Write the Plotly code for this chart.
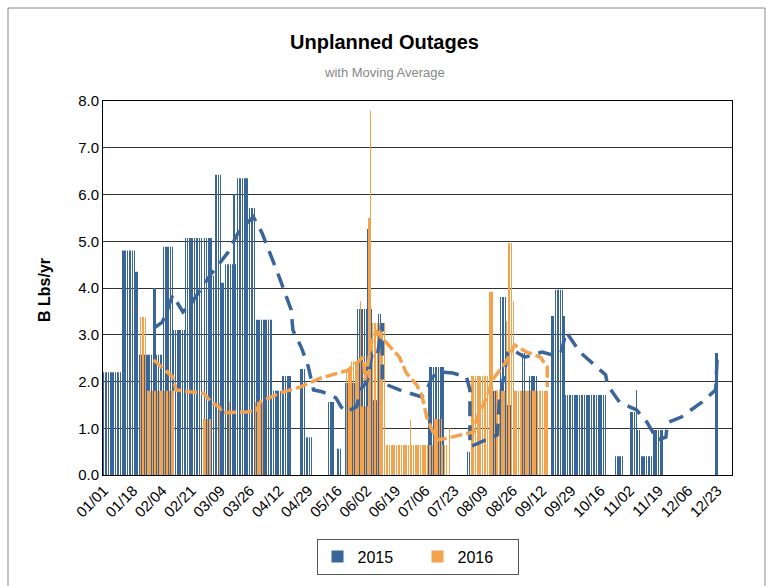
import numpy as np
import pandas as pd
import plotly.graph_objects as go

# x axis: one category per day of a (leap) year, labelled MM/DD
tick_labels = ["01/01", "01/18", "02/04", "02/21", "03/09", "03/26", "04/12", "04/29",
               "05/16", "06/02", "06/19", "07/06", "07/23", "08/09", "08/26", "09/12",
               "09/29", "10/16", "11/02", "11/19", "12/06", "12/23"]

# daily bars, kept as runs of equal values: (first day, last day, value)
runs_2015 = [
    ("01/01", "01/11", 2.2), ("01/12", "01/19", 4.8), ("01/20", "01/21", 4.35),
    ("01/22", "01/29", 2.57), ("01/30", "01/31", 4.0), ("02/01", "02/04", 2.57),
    ("02/05", "02/10", 4.88), ("02/11", "02/17", 3.1), ("02/18", "02/27", 5.07),
    ("02/29", "03/04", 5.07), ("03/05", "03/05", 4.26), ("03/06", "03/09", 6.42),
    ("03/10", "03/11", 4.11), ("03/12", "03/16", 4.51), ("03/17", "03/17", 6.01),
    ("03/18", "03/18", 4.51), ("03/19", "03/25", 6.35), ("03/26", "03/29", 5.71),
    ("03/30", "04/08", 3.32), ("04/09", "04/13", 1.8), ("04/14", "04/19", 2.12),
    ("04/25", "04/27", 2.27), ("04/28", "05/01", 0.81), ("05/11", "05/14", 1.56),
    ("05/16", "05/18", 0.56), ("05/21", "05/27", 1.97), ("05/28", "06/02", 3.55),
    ("06/03", "06/03", 5.26), ("06/04", "06/05", 3.55), ("06/06", "06/08", 1.6),
    ("06/09", "06/10", 3.45), ("07/08", "07/08", 1.9), ("07/09", "07/17", 2.31),
    ("07/31", "08/01", 0.5), ("08/15", "08/17", 1.8), ("08/19", "08/22", 3.81),
    ("08/23", "08/25", 1.5), ("09/01", "09/02", 2.61), ("09/05", "09/09", 2.12),
    ("09/18", "09/19", 3.4), ("09/20", "09/24", 3.96), ("09/25", "09/25", 3.4),
    ("09/26", "10/19", 1.71), ("10/25", "10/29", 0.4), ("11/03", "11/05", 1.35),
    ("11/06", "11/06", 1.82), ("11/07", "11/08", 0.96), ("11/09", "11/15", 0.4),
    ("11/16", "11/21", 0.96), ("12/22", "12/23", 2.61),
]
runs_2016 = [
    ("01/22", "01/25", 3.38), ("01/26", "02/10", 1.8), ("02/28", "03/03", 1.2),
    ("03/08", "03/08", 1.54), ("03/14", "03/14", 1.56), ("03/29", "04/02", 1.56),
    ("05/21", "05/23", 2.27), ("05/24", "05/28", 2.43), ("05/29", "05/29", 3.72),
    ("05/30", "06/02", 1.47), ("06/03", "06/03", 5.5), ("06/04", "06/04", 7.79),
    ("06/05", "06/12", 3.25), ("06/13", "06/26", 0.64), ("06/27", "06/27", 1.18),
    ("06/28", "07/10", 0.64), ("07/11", "07/15", 1.2), ("07/16", "07/18", 0.64),
    ("07/20", "07/20", 1.0), ("08/02", "08/11", 2.12), ("08/12", "08/14", 3.92),
    ("08/15", "08/21", 1.8), ("08/22", "08/22", 3.29), ("08/23", "08/25", 4.96),
    ("08/26", "08/26", 3.72), ("08/27", "09/15", 1.8),
]

# moving average lines
ma_2015_dates = ["01/30", "02/04", "02/07", "02/10", "02/16", "02/21", "03/03", "03/13",
                 "03/20", "03/28", "04/02", "04/12", "04/19", "04/20", "04/25", "04/29",
                 "05/02", "05/07", "05/15", "05/18", "05/21", "05/27", "05/30", "06/02",
                 "06/05", "06/08", "06/11", "06/11", "06/21", "07/04", "07/07", "07/10",
                 "07/16", "07/22", "07/30", "08/01", "08/01", "08/08", "08/17", "08/18",
                 "08/20", "08/23", "08/26", "09/02", "09/12", "09/18", "09/23", "09/26",
                 "10/04", "10/11", "10/19", "10/20", "10/27", "11/06", "11/12", "11/18",
                 "11/23", "11/24", "12/02", "12/14", "12/22", "12/23"]
ma_2015_vals = [3.14, 3.27, 3.53, 3.85, 3.49, 3.68, 4.28, 4.75,
                5.24, 5.52, 5.18, 4.24, 3.53, 3.1, 2.72, 2.31,
                1.82, 1.78, 1.65, 1.46, 1.35, 1.46, 1.86, 1.99,
                2.57, 2.52, 3.25, 1.97, 1.82, 1.67, 1.82, 2.1,
                2.2, 2.18, 2.1, 1.82, 0.6, 0.71, 0.86, 1.54,
                1.97, 2.61, 2.67, 2.52, 2.63, 2.57, 2.61, 3.06,
                2.63, 2.4, 2.14, 1.93, 1.56, 1.39, 1.13, 0.75,
                0.81, 1.12, 1.24, 1.56, 1.82, 2.61]

ma_2016_dates = ["01/30", "02/04", "02/10", "02/11", "02/12", "02/20", "02/28", "03/04",
                 "03/08", "03/10", "03/24", "03/30", "04/01", "04/12", "04/24", "05/06",
                 "05/17", "05/22", "05/31", "06/01", "06/05", "06/08", "06/11", "06/21",
                 "06/25", "07/01", "07/04", "07/07", "07/10", "07/13", "07/19", "08/03",
                 "08/05", "08/11", "08/14", "08/22", "08/27", "09/03", "09/11", "09/15",
                 "09/15"]
ma_2016_vals = [2.46, 2.29, 2.1, 1.97, 1.82, 1.78, 1.75, 1.54,
                1.46, 1.33, 1.35, 1.39, 1.56, 1.75, 1.88, 2.07,
                2.2, 2.24, 2.52, 2.03, 2.89, 3.06, 2.93, 2.52,
                2.18, 1.93, 1.71, 1.22, 0.96, 0.75, 0.79, 0.92,
                1.22, 1.67, 2.03, 2.42, 2.78, 2.63, 2.52, 2.31,
                1.88]

BLUE = "#3A6598"
ORANGE = "#F3A24E"


def day(mmdd):
    return (pd.Timestamp("2016/" + mmdd) - pd.Timestamp("2016/01/01")).days


def daily(runs):
    vals = np.full(366, np.nan)
    for a, b, v in runs:
        vals[day(a):day(b) + 1] = v
    return vals


days = np.arange(366)
fig = go.Figure()
# thin bars: plotly widens them to a whole pixel, which gives the striped look
fig.add_trace(go.Bar(x=days, y=daily(runs_2015), name="2015", marker_color=BLUE,
                     marker_line_width=0, width=0.1, offset=-0.32))
fig.add_trace(go.Bar(x=days, y=daily(runs_2016), name="2016", marker_color=ORANGE,
                     marker_line_width=0, width=0.1, offset=0.2))
fig.add_trace(go.Scatter(x=[day(d) for d in ma_2015_dates], y=ma_2015_vals, mode="lines",
                         line=dict(color=BLUE, width=3.5, dash="15px,9px"), showlegend=False))
fig.add_trace(go.Scatter(x=[day(d) for d in ma_2016_dates], y=ma_2016_vals, mode="lines",
                         line=dict(color=ORANGE, width=3.5, dash="12px,4px"), showlegend=False))

fig.update_layout(
    width=768, height=586,
    margin=dict(l=103, r=36, t=101, b=111),
    paper_bgcolor="white", plot_bgcolor="white",
    font=dict(family="Liberation Sans, Arial", size=15, color="black"),
    barmode="overlay",
    showlegend=True,
    legend=dict(orientation="h", x=0.5, xanchor="center", y=-0.17, yanchor="top",
                bordercolor="#555", borderwidth=1, font=dict(size=16),
                entrywidth=55, itemwidth=30, traceorder="normal"),
    annotations=[
        dict(text="<b>Unplanned Outages</b>", x=0.448, y=1.158, xref="paper", yref="paper",
             showarrow=False, font=dict(size=20), xanchor="center", yanchor="middle"),
        dict(text="with Moving Average", x=0.448, y=1.075, xref="paper", yref="paper",
             showarrow=False, font=dict(size=13, color="#888"), xanchor="center",
             yanchor="middle"),
        dict(text="<b>B Lbs/yr</b>", x=-0.092, y=0.495, xref="paper", yref="paper",
             showarrow=False, font=dict(size=16), textangle=-90, xanchor="center",
             yanchor="middle"),
    ],
    shapes=[dict(type="rect", xref="paper", yref="paper",
                 x0=(8 - 103) / 629, x1=(765 - 103) / 629, y0=-0.4, y1=(475 - 8) / 374,
                 line=dict(color="#888", width=1))],
)
fig.update_xaxes(range=[-0.5, 365.5], tickvals=[day(t) for t in tick_labels],
                 ticktext=tick_labels, tickangle=-45, showgrid=False, showline=True,
                 linecolor="black", linewidth=1, mirror=True, ticks="", zeroline=False)
fig.update_yaxes(range=[0, 8], dtick=1, tickformat=".1f", showgrid=True, gridcolor="#333",
                 gridwidth=1, showline=True, linecolor="black", linewidth=1, mirror=True,
                 zeroline=False, ticks="")

fig.write_html("out.html", config={"displayModeBar": False},
               post_script="document.body.style.margin='0';")
